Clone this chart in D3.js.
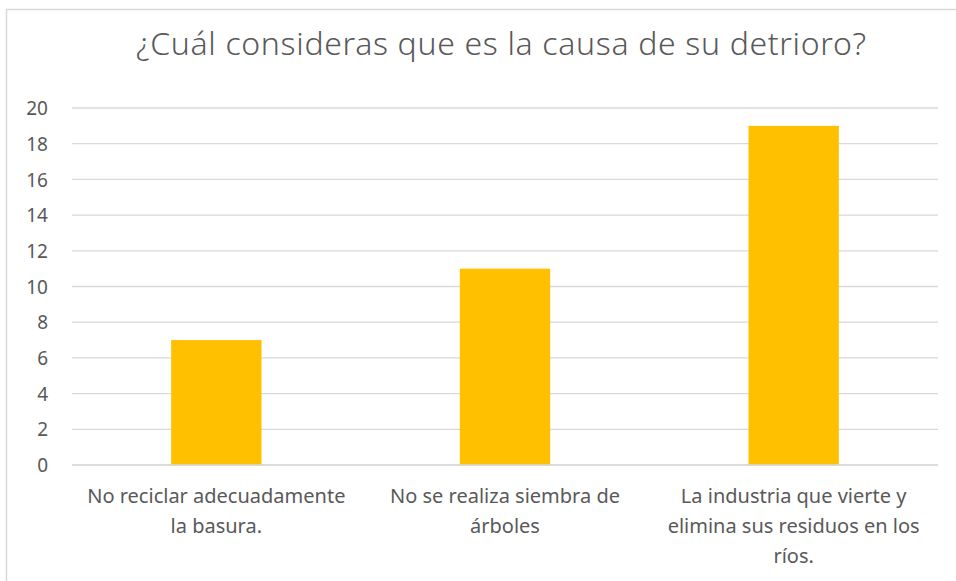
<!DOCTYPE html>
<html><head><meta charset="utf-8">
<script src="https://cdn.jsdelivr.net/npm/d3@7"></script>
<style>html,body{margin:0;padding:0;background:#fff;overflow:hidden}</style>
</head><body>
<svg id="chart" width="956" height="581"></svg>
<script>
const categories = [
  ["No reciclar adecuadamente", "la basura."],
  ["No se realiza siembra de", "árboles"],
  ["La industria que vierte y", "elimina sus residuos en los", "ríos."]
];
const values = [7, 11, 19];
const yTicks = [0, 2, 4, 6, 8, 10, 12, 14, 16, 18, 20];
const title = "¿Cuál consideras que es la causa de su detrioro?";

(function () {
const svg = d3.select("#chart");
const font = "'Noto Sans', 'Open Sans', sans-serif";
const textColor = "#595959";

// outer chart border
svg.append("rect").attr("x", 6.5).attr("y", 9.5).attr("width", 1000).attr("height", 1000)
  .attr("fill", "none").attr("stroke", "#d9d9d9").attr("stroke-width", 1.5);

const pLeft = 72, pRight = 938, pTop = 108, pBottom = 465;
const x = d3.scaleBand().domain(d3.range(categories.length)).range([pLeft, pRight]).padding(0);
const y = d3.scaleLinear().domain([0, 20]).range([pBottom, pTop]);

// gridlines
svg.append("g").selectAll("line").data(yTicks).join("line")
  .attr("x1", pLeft).attr("x2", pRight)
  .attr("y1", d => y(d)).attr("y2", d => y(d))
  .attr("stroke", "#d9d9d9").attr("stroke-width", 1.3);

// y axis labels
const yAxis = d3.axisLeft(y).tickValues(yTicks).tickSize(0).tickPadding(0);
const gy = svg.append("g").attr("transform", `translate(${pLeft - 24},0)`).call(yAxis);
gy.select(".domain").remove();
gy.selectAll("text").attr("font-family", font).attr("font-size", 19).attr("fill", textColor)
  .attr("dy", "0.35em");

// bars
const barW = x.bandwidth() * 0.313;
svg.append("g").selectAll("rect").data(values).join("rect")
  .attr("x", (d, i) => x(i) + x.bandwidth() / 2 - barW / 2)
  .attr("width", barW)
  .attr("y", d => y(d))
  .attr("height", d => y(0) - y(d))
  .attr("fill", "#FFC000");

// baseline
svg.append("line").attr("x1", pLeft).attr("x2", pRight).attr("y1", y(0)).attr("y2", y(0))
  .attr("stroke", "#d9d9d9").attr("stroke-width", 1.3);

// category labels
const gx = svg.append("g");
categories.forEach((lines, i) => {
  const t = gx.append("text").attr("text-anchor", "middle")
    .attr("font-family", font).attr("font-size", 20).attr("fill", textColor);
  lines.forEach((ln, j) => {
    t.append("tspan").attr("x", x(i) + x.bandwidth() / 2).attr("y", 503 + j * 30).text(ln);
  });
});

// title
svg.append("text").attr("x", 501).attr("y", 55).attr("text-anchor", "middle")
  .attr("font-family", font).attr("font-size", 32).attr("font-weight", 300).attr("fill", textColor)
  .attr("textLength", 730).attr("lengthAdjust", "spacing")
  .text(title);
})();
</script>
</body></html>
